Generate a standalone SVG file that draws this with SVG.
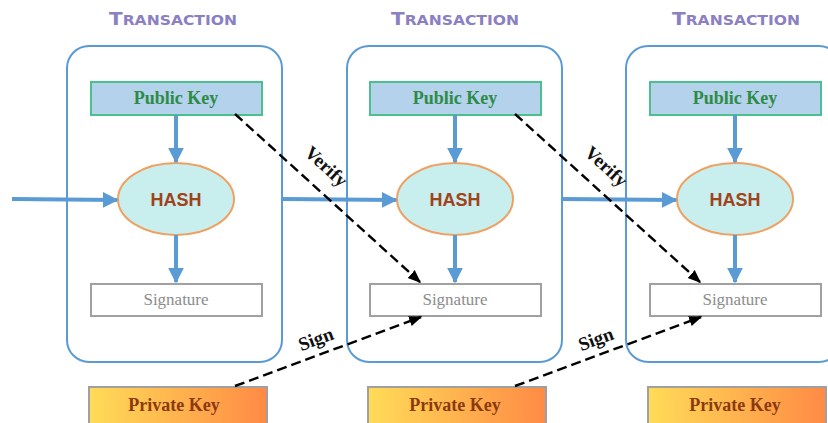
<svg xmlns="http://www.w3.org/2000/svg" width="828" height="423" viewBox="0 0 828 423">
  <style>
    .title { font-family: "DejaVu Sans", sans-serif; font-weight: bold; fill: #8a80c2; }
    .frame { fill: #ffffff; stroke: #5b9bd5; stroke-width: 2; }
    .pub { fill: #b4d2ec; stroke: #4cc08c; stroke-width: 2; }
    .pubtxt { font-family: "Liberation Serif", serif; font-weight: bold; font-size: 18px; fill: #2e8b45; text-anchor: middle; }
    .hash { fill: #c9eeee; stroke: #f0a060; stroke-width: 2; }
    .hashtxt { font-family: "Liberation Sans", sans-serif; font-weight: bold; font-size: 18px; fill: #a0421a; text-anchor: middle; }
    .sig { fill: #ffffff; stroke: #a0a0a0; stroke-width: 2; }
    .sigtxt { font-family: "Liberation Serif", serif; font-size: 17px; fill: #8c8c8c; text-anchor: middle; }
    .priv { fill: url(#privGrad); stroke: #a0a0a0; stroke-width: 2; }
    .privtxt { font-family: "Liberation Serif", serif; font-weight: bold; font-size: 18px; fill: #8b3a0f; text-anchor: middle; }
    .flow { stroke: #5b9bd5; stroke-width: 4; fill: none; marker-end: url(#blueArrow); }
    .dash { stroke: #000000; stroke-width: 2.4; stroke-dasharray: 10 5; fill: none; marker-end: url(#blackArrow); }
    .lbl { font-family: "Liberation Serif", serif; font-weight: bold; font-size: 19px; fill: #111111; text-anchor: middle; }
  </style>
  <defs>
    <linearGradient id="privGrad" x1="0" y1="0" x2="1" y2="0">
      <stop offset="0" stop-color="#ffdc58"/>
      <stop offset="1" stop-color="#ff8a45"/>
    </linearGradient>
    <marker id="blueArrow" viewBox="0 0 10 10" refX="9" refY="5" markerWidth="4" markerHeight="4" orient="auto" markerUnits="strokeWidth">
      <path d="M0,0 L10,5 L0,10 Z" fill="#5b9bd5"/>
    </marker>
    <marker id="blackArrow" viewBox="0 0 10 10" refX="9" refY="5" markerWidth="5.5" markerHeight="5.5" orient="auto" markerUnits="strokeWidth">
      <path d="M0,1 L10,5 L0,9 Z" fill="#000000"/>
    </marker>
  </defs>

  <!-- transaction block 1 -->
  <g id="tx1">
    <text class="title" x="173" y="25" text-anchor="middle" textLength="128" lengthAdjust="spacingAndGlyphs"><tspan font-size="18">T</tspan><tspan font-size="14">RANSACTION</tspan></text>
    <rect class="frame" x="67" y="46" width="215" height="316" rx="22"/>
    <rect class="pub" x="91" y="82" width="171" height="33"/>
    <text class="pubtxt" x="176" y="104">Public Key</text>
    <ellipse class="hash" cx="176" cy="199" rx="58" ry="36"/>
    <text class="hashtxt" x="176" y="206">HASH</text>
    <rect class="sig" x="91" y="284" width="171" height="32"/>
    <text class="sigtxt" x="176" y="305">Signature</text>
  </g>
  <g id="priv1">
    <rect class="priv" x="89" y="387" width="178" height="40"/>
    <text class="privtxt" x="174" y="411">Private Key</text>
  </g>

  <!-- transaction block 2 -->
  <g id="tx2">
    <text class="title" x="455" y="25" text-anchor="middle" textLength="128" lengthAdjust="spacingAndGlyphs"><tspan font-size="18">T</tspan><tspan font-size="14">RANSACTION</tspan></text>
    <rect class="frame" x="347" y="46" width="215" height="316" rx="22"/>
    <rect class="pub" x="370" y="82" width="171" height="33"/>
    <text class="pubtxt" x="455" y="104">Public Key</text>
    <ellipse class="hash" cx="455" cy="199" rx="58" ry="36"/>
    <text class="hashtxt" x="455" y="206">HASH</text>
    <rect class="sig" x="370" y="284" width="171" height="32"/>
    <text class="sigtxt" x="455" y="305">Signature</text>
  </g>
  <g id="priv2">
    <rect class="priv" x="368" y="387" width="178" height="40"/>
    <text class="privtxt" x="455" y="411">Private Key</text>
  </g>

  <!-- transaction block 3 -->
  <g id="tx3">
    <text class="title" x="736" y="25" text-anchor="middle" textLength="128" lengthAdjust="spacingAndGlyphs"><tspan font-size="18">T</tspan><tspan font-size="14">RANSACTION</tspan></text>
    <rect class="frame" x="626" y="46" width="215" height="316" rx="22"/>
    <rect class="pub" x="650" y="82" width="171" height="33"/>
    <text class="pubtxt" x="735" y="104">Public Key</text>
    <ellipse class="hash" cx="735" cy="199" rx="58" ry="36"/>
    <text class="hashtxt" x="735" y="206">HASH</text>
    <rect class="sig" x="650" y="284" width="171" height="32"/>
    <text class="sigtxt" x="735" y="305">Signature</text>
  </g>
  <g id="priv3">
    <rect class="priv" x="648" y="387" width="178" height="40"/>
    <text class="privtxt" x="735" y="411">Private Key</text>
  </g>

  <!-- connectors -->
  <g id="connectors">
    <!-- chain inputs -->
    <line class="flow" x1="12" y1="199" x2="117" y2="200"/>
    <line class="flow" x1="283" y1="199" x2="396" y2="200"/>
    <line class="flow" x1="562" y1="199" x2="676" y2="200"/>
    <!-- public key to hash -->
    <line class="flow" x1="176" y1="115" x2="176" y2="162"/>
    <line class="flow" x1="455" y1="115" x2="455" y2="162"/>
    <line class="flow" x1="735" y1="115" x2="735" y2="162"/>
    <!-- hash to signature -->
    <line class="flow" x1="176" y1="235" x2="176" y2="282"/>
    <line class="flow" x1="455" y1="235" x2="455" y2="282"/>
    <line class="flow" x1="735" y1="235" x2="735" y2="282"/>
    <!-- verify -->
    <line class="dash" x1="235" y1="114" x2="420" y2="282"/>
    <line class="dash" x1="515" y1="114" x2="700" y2="282"/>
    <text class="lbl" transform="translate(322,171) rotate(42.4)">Verify</text>
    <text class="lbl" transform="translate(602,171) rotate(42.4)">Verify</text>
    <!-- sign -->
    <line class="dash" x1="235" y1="386" x2="421" y2="317"/>
    <line class="dash" x1="515" y1="386" x2="701" y2="317"/>
    <text class="lbl" transform="translate(318,345) rotate(-20.3)">Sign</text>
    <text class="lbl" transform="translate(598,345) rotate(-20.3)">Sign</text>
  </g>
</svg>
